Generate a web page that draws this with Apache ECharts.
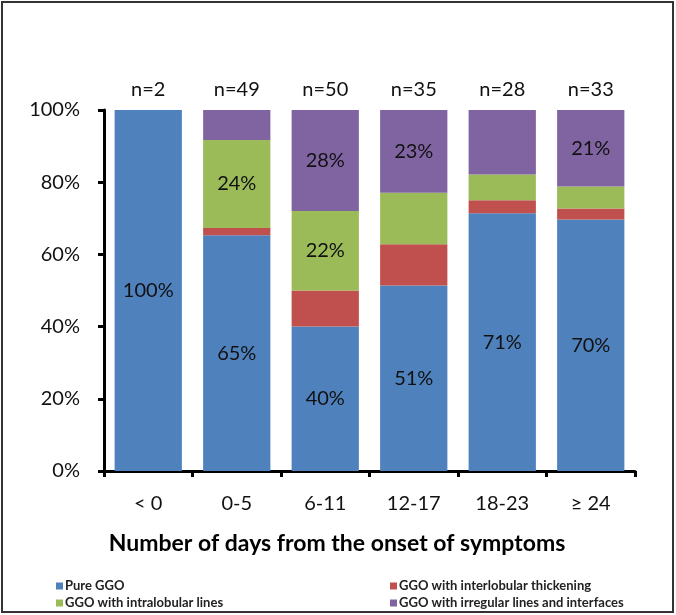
<!DOCTYPE html>
<html>
<head>
<meta charset="utf-8">
<script src="https://cdn.jsdelivr.net/npm/echarts@6/dist/echarts.min.js"></script>
<style>
html,body{margin:0;padding:0;background:#fff;}
#c{width:676px;height:615px;}
</style>
</head>
<body>
<div id="c"></div>
<script>
// ---- data ----
const categories = ['< 0', '0-5', '6-11', '12-17', '18-23', '\u2265 24'];
const nLabels = ['n=2', 'n=49', 'n=50', 'n=35', 'n=28', 'n=33'];
const seriesNames = ['Pure GGO', 'GGO with interlobular thickening', 'GGO with intralobular lines', 'GGO with irregular lines and interfaces'];
const pureGGO      = [100, 65.3, 40, 51.4, 71.4, 69.7];
const interlobular = [0, 2.0, 10, 11.4, 3.6, 3.0];
const intralobular = [0, 24.4, 22, 14.3, 7.1, 6.1];
const irregular    = [0, 8.3, 28, 22.9, 17.9, 21.2];
const yTicks = [0, 20, 40, 60, 80, 100];

// which segments carry a value label
const showPure  = [true, true, true, true, true, true];
const showInter = [false, false, false, false, false, false];
const showIntra = [false, true, true, false, false, false];
const showIrreg = [false, false, true, true, false, true];

const colors = ['#4F81BD', '#C0504D', '#9BBB59', '#8064A2'];
const FONT = 'Lato';

function mkData(vals, shows) {
  return vals.map((v, i) => ({ value: v, label: { show: shows[i] } }));
}
function mkSeries(name, vals, shows, color) {
  return {
    name: name,
    type: 'bar',
    stack: 'total',
    barCategoryGap: '24%',
    itemStyle: { color: color },
    label: {
      position: 'inside',
      fontFamily: FONT,
      fontSize: 20,
      color: '#111',
      formatter: p => Math.round(p.value) + '%'
    },
    emphasis: { disabled: true },
    data: mkData(vals, shows)
  };
}

const legendText = { fontFamily: FONT, fontSize: 13, fontWeight: 'bold', color: '#222', lineHeight: 16, padding: [0, 0, 0, -3] };

const chart = echarts.init(document.getElementById('c'), null, { renderer: 'canvas' });
chart.setOption({
  animation: false,
  backgroundColor: '#fff',
  textStyle: { fontFamily: FONT },
  grid: { left: 104, right: 41, top: 110, bottom: 144, containLabel: false },
  title: {
    text: 'Number of days from the onset of symptoms',
    left: 332, top: 527, textAlign: 'center',
    textStyle: { fontFamily: FONT, fontSize: 23, fontWeight: 'bold', color: '#000' }
  },
  legend: [
    {
      data: [seriesNames[0], seriesNames[2]],
      orient: 'vertical', left: 56, top: 578, padding: 0,
      itemWidth: 7, itemHeight: 7, itemGap: 1,
      icon: 'rect',
      textStyle: legendText
    },
    {
      data: [seriesNames[1], seriesNames[3]],
      orient: 'vertical', left: 390, top: 578, padding: 0,
      itemWidth: 7, itemHeight: 7, itemGap: 1,
      icon: 'rect',
      textStyle: legendText
    }
  ],
  xAxis: [
    {
      type: 'category',
      data: categories,
      axisLine: { lineStyle: { color: '#000', width: 3 } },
      axisTick: { show: true, length: 6, lineStyle: { color: '#000', width: 3 } },
      axisLabel: { fontFamily: FONT, fontSize: 20, color: '#111', margin: 23 }
    },
    {
      type: 'category',
      position: 'top',
      data: nLabels,
      axisLine: { show: false },
      axisTick: { show: false },
      axisLabel: { fontFamily: FONT, fontSize: 20, color: '#111', margin: 10 }
    }
  ],
  yAxis: {
    type: 'value',
    min: yTicks[0], max: yTicks[yTicks.length - 1], interval: yTicks[1] - yTicks[0],
    axisLine: { show: true, lineStyle: { color: '#000', width: 3 } },
    axisTick: { show: true, length: 6, lineStyle: { color: '#000', width: 3 } },
    splitLine: { show: false },
    axisLabel: { fontFamily: FONT, fontSize: 20, color: '#111', margin: 24, formatter: '{value}%' }
  },
  graphic: [
    {
      type: 'rect',
      shape: { x: 2, y: 2, width: 671, height: 610 },
      style: { fill: null, stroke: '#333', lineWidth: 2 },
      silent: true
    }
  ],
  series: [
    mkSeries(seriesNames[0], pureGGO, showPure, colors[0]),
    mkSeries(seriesNames[1], interlobular, showInter, colors[1]),
    mkSeries(seriesNames[2], intralobular, showIntra, colors[2]),
    mkSeries(seriesNames[3], irregular, showIrreg, colors[3])
  ]
});
</script>
</body>
</html>
